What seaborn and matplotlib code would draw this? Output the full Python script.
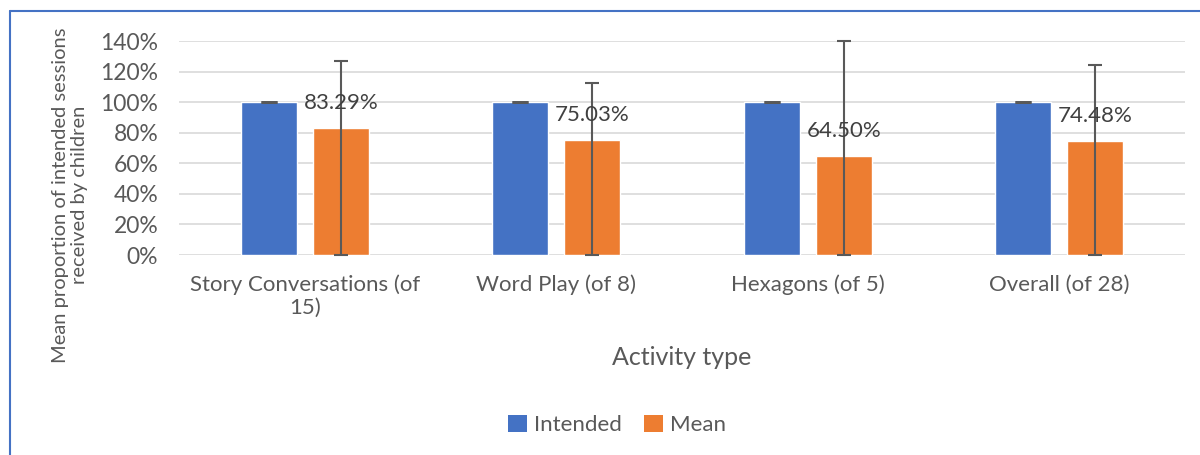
import pandas as pd
import numpy as np
import matplotlib.pyplot as plt
import seaborn as sns
from matplotlib.lines import Line2D
from matplotlib.patches import Patch
from matplotlib.ticker import PercentFormatter

sns.set_style('white')
plt.rcParams['font.family'] = ['Lato', 'DejaVu Sans']

activities = ['Story Conversations (of\n15)', 'Word Play (of 8)', 'Hexagons (of 5)', 'Overall (of 28)']
intended = [100, 100, 100, 100]
mean = [83.29, 75.03, 64.50, 74.48]
err_top = [126.7, 112.7, 139.8, 124.1]
series = ['Intended', 'Mean']
colors = ['#4472C4', '#ED7D31']
grey = '#595959'

df = pd.DataFrame({
    'Activity': activities * 2,
    'Series': ['Intended'] * 4 + ['Mean'] * 4,
    'Value': intended + mean,
})

fig = plt.figure(figsize=(12, 4.55), dpi=100)
ax = fig.add_axes([179 / 1200, 1 - 255 / 455, 1006 / 1200, 214 / 455])

sns.barplot(data=df, x='Activity', y='Value', hue='Series', palette=colors,
            width=0.573, gap=0.222, saturation=1, errorbar=None, legend=False, ax=ax)

# intended: zero-size error bar (cap only); mean: from 0 up to the upper value
xs_int = [p.get_x() + p.get_width() / 2 for p in ax.containers[0]]
ax.errorbar(xs_int, intended, yerr=0, fmt='none', ecolor=grey, elinewidth=1.5,
            capsize=6, capthick=2)
xs_mean = [p.get_x() + p.get_width() / 2 for p in ax.containers[1]]
upper = np.array(err_top) - np.array(mean)
ax.errorbar(xs_mean, mean, yerr=[mean, upper], fmt='none', ecolor=grey, elinewidth=1.5,
            capsize=5, capthick=1.5, clip_on=False)

for x, v in zip(xs_mean, mean):
    ax.annotate(f'{v:.2f}%', (x, v), xytext=(0, 18),
                textcoords='offset points', ha='center', va='center', fontsize=16, color='#404040')

ax.set_ylim(0, 140)
ax.set_xlim(-0.5, 3.5)
ax.set_yticks(range(0, 141, 20))
ax.yaxis.set_major_formatter(PercentFormatter(decimals=0))
ax.grid(axis='y', color='#d9d9d9', linewidth=1.2)
ax.set_axisbelow(True)
sns.despine(ax=ax, left=True, bottom=True)
ax.tick_params(axis='x', length=0, labelsize=16, labelcolor=grey, pad=14)
ax.tick_params(axis='y', length=0, labelsize=16.5, labelcolor=grey, pad=15)
for t in ax.get_xticklabels():
    t.set_linespacing(1.2)

ax.set_xlabel('Activity type', fontsize=18, color=grey, labelpad=20)
ax.set_ylabel('Mean proportion of intended sessions\nreceived by children', fontsize=14.5, color=grey)
ax.yaxis.set_label_coords((70 - 179) / 1006, (255 - 195) / 214)
ax.yaxis.label.set_va('center')

handles = [Patch(facecolor=c, edgecolor='none') for c in colors]
fig.legend(handles, series, loc='center', bbox_to_anchor=(617 / 1200, 1 - 425 / 455), ncol=2,
           frameon=False, fontsize=16, handlelength=0.85, handleheight=0.85, handletextpad=0.3,
           columnspacing=1.0, labelcolor=grey)

# chart border (left and top visible)
fig.add_artist(Line2D([10 / 1200, 10 / 1200], [0, 1 - 11 / 455], color='#4472C4', lw=1.5))
fig.add_artist(Line2D([10 / 1200, 1], [1 - 11 / 455, 1 - 11 / 455], color='#4472C4', lw=1.5))

fig.savefig('out.png', dpi=100)
